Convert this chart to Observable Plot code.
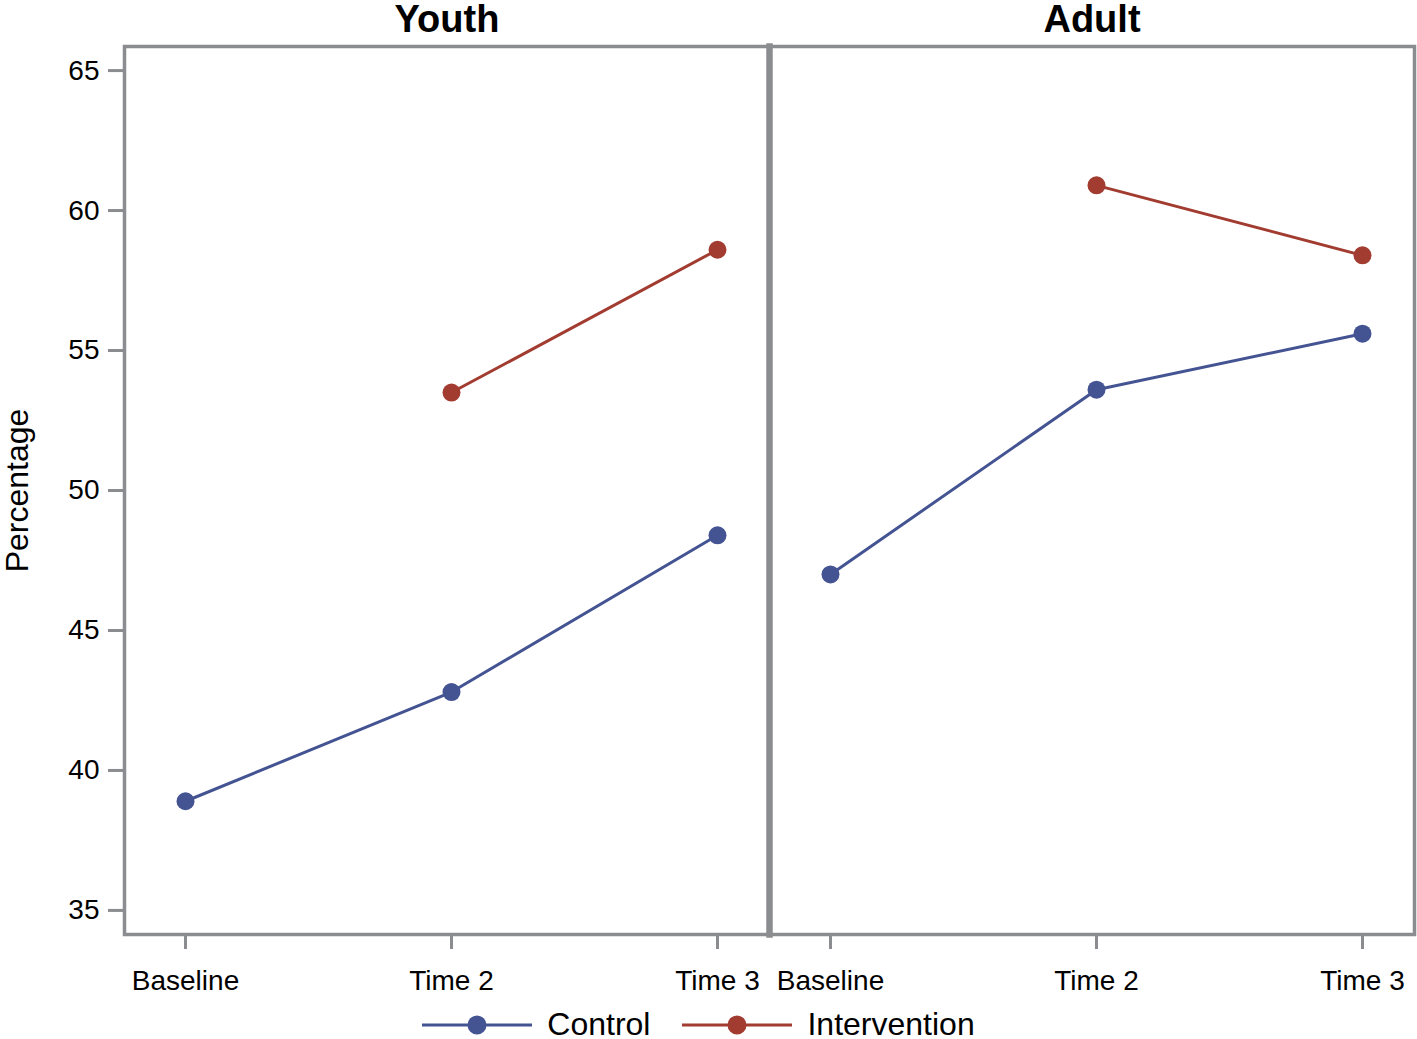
<!DOCTYPE html>
<html>
<head>
<meta charset="utf-8">
<script src="https://cdn.jsdelivr.net/npm/d3@7"></script>
<script src="https://cdn.jsdelivr.net/npm/@observablehq/plot@0.6"></script>
<style>
  body { margin: 0; background: #fff; font-family: "Liberation Sans", Arial, sans-serif; }
  #chart { width: 1417px; }
  .legend { display: flex; justify-content: center; align-items: center; height: 29px; margin-top: 5px; padding-right: 20px; font-size: 32px; line-height: 29px; color: #000; }
  .legend .item { display: flex; align-items: center; margin: 0 16px; }
  .legend svg { margin-right: 15px; }
</style>
</head>
<body>
<div id="chart"></div>
<script>
const groups = ["Youth", "Adult"];
const times = ["Baseline", "Time 2", "Time 3"];
const seriesNames = ["Control", "Intervention"];
const seriesColors = ["#445493", "#a23b30"];
const youthControl = [38.9, 42.8, 48.4];
const youthIntervention = [null, 53.5, 58.6];
const adultControl = [47.0, 53.6, 55.6];
const adultIntervention = [null, 60.9, 58.4];
const yTicks = [35, 40, 45, 50, 55, 60, 65];

const gray = "#8b8c8f";
const rows = [];
const add = (group, series, values) => values.forEach((v, i) => {
  if (v != null) rows.push({group, series, time: times[i], value: v});
});
add("Youth", "Control", youthControl);
add("Youth", "Intervention", youthIntervention);
add("Adult", "Control", adultControl);
add("Adult", "Intervention", adultIntervention);

const chart = Plot.plot({
  width: 1417,
  height: 1005,
  marginTop: 46,
  marginLeft: 124,
  marginRight: 3,
  marginBottom: 71,
  style: {fontFamily: "'Liberation Sans', Arial, sans-serif", background: "#fff", color: "#000"},
  fx: {domain: groups, padding: 0, label: null},
  x: {domain: times, type: "point", padding: 0.21, align: 0.54, label: null},
  y: {domain: [34.14, 65.86], label: null},
  color: {domain: seriesNames, range: seriesColors},
  marks: [
    Plot.axisFx({anchor: "top", tickSize: 0, tickPadding: 15, fontSize: 38, fontWeight: "bold", fill: "#000", label: null}),
    Plot.axisX({tickSize: 15, tickPadding: 21, stroke: gray, strokeWidth: 3, fill: "#000", fontSize: 28, label: null}),
    Plot.axisY({ticks: yTicks, tickSize: 16, tickPadding: 9, stroke: gray, strokeWidth: 3, fill: "#000", fontSize: 28, label: null}),
    Plot.text(["Percentage"], {fx: ["Youth"], frameAnchor: "left", textAnchor: "middle", rotate: -90, dx: -107, fontSize: 32, fill: "#000", text: d => d}),
    Plot.line(rows, {fx: "group", x: "time", y: "value", z: "series", stroke: "series", strokeWidth: 3}),
    Plot.dot(rows, {fx: "group", x: "time", y: "value", fill: "series", r: 9}),
    Plot.frame({stroke: gray, strokeWidth: 3.5}),
    Plot.frame({anchor: "left", fx: ["Adult"], stroke: gray, strokeWidth: 6.5})
  ]
});
document.getElementById("chart").appendChild(chart);

const legend = d3.select("body").append("div").attr("class", "legend");
seriesNames.forEach((name, i) => {
  const item = legend.append("div").attr("class", "item");
  const svg = item.append("svg").attr("width", 110).attr("height", 24);
  svg.append("line").attr("x1", 0).attr("x2", 110).attr("y1", 12).attr("y2", 12)
    .attr("stroke", seriesColors[i]).attr("stroke-width", 3);
  svg.append("circle").attr("cx", 55).attr("cy", 12).attr("r", 9.5).attr("fill", seriesColors[i]);
  item.append("span").text(name);
});
</script>
</body>
</html>
